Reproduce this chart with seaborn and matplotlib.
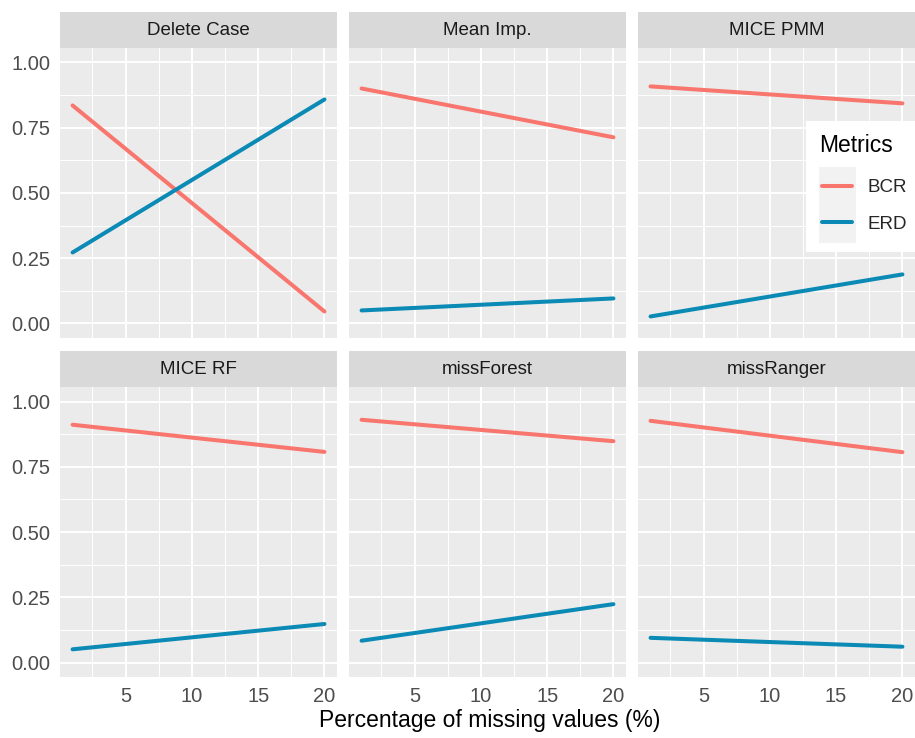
import pandas as pd
import seaborn as sns
import matplotlib.pyplot as plt
from matplotlib.patches import Rectangle
from matplotlib.lines import Line2D
from matplotlib.ticker import MultipleLocator, FormatStrFormatter

# Data (values at 1% and 20% missing)
methods = ["Delete Case", "Mean Imp.", "MICE PMM", "MICE RF", "missForest", "missRanger"]
pct_missing = [1, 20]
bcr_start = [0.835, 0.900, 0.908, 0.911, 0.930, 0.926]
bcr_end = [0.046, 0.713, 0.843, 0.807, 0.848, 0.806]
erd_start = [0.272, 0.050, 0.027, 0.051, 0.084, 0.095]
erd_end = [0.858, 0.096, 0.188, 0.148, 0.224, 0.061]
metrics = ["BCR", "ERD"]
palette = {"BCR": "#F8766D", "ERD": "#0A8AB4"}

rows = []
for i, m in enumerate(methods):
    for metric, start, end in (("BCR", bcr_start, bcr_end), ("ERD", erd_start, erd_end)):
        rows.append({"method": m, "Metrics": metric, "pct": pct_missing[0], "value": start[i]})
        rows.append({"method": m, "Metrics": metric, "pct": pct_missing[1], "value": end[i]})
df = pd.DataFrame(rows)

sns.set_style("darkgrid", rc={"axes.facecolor": "#EBEBEB", "grid.color": "white"})
plt.rcParams["font.family"] = ["Liberation Sans", "DejaVu Sans"]

g = sns.relplot(
    data=df, x="pct", y="value", hue="Metrics", col="method", col_wrap=3,
    col_order=methods, kind="line", palette=palette, linewidth=2.9,
    height=3, aspect=1, legend=False, facet_kws=dict(sharex=True, sharey=True),
)
fig = g.figure
fig.set_size_inches(9.15, 7.38)
fig.subplots_adjust(left=60 / 915, right=1.0, top=1 - 48 / 738, bottom=1 - 677 / 738,
                    wspace=0.043, hspace=0.17)

strip_h = 0.124
for idx, ax in enumerate(g.axes.flat):
    r, c = divmod(idx, 3)
    ax.set_title("")
    ax.set_xlabel("")
    ax.set_ylabel("")
    ax.set_xlim(0.05, 20.95)
    ax.set_ylim(-0.055, 1.055)
    ax.xaxis.set_major_locator(MultipleLocator(5))
    ax.xaxis.set_minor_locator(MultipleLocator(2.5))
    ax.yaxis.set_major_locator(MultipleLocator(0.25))
    ax.yaxis.set_minor_locator(MultipleLocator(0.125))
    ax.yaxis.set_major_formatter(FormatStrFormatter("%.2f"))
    ax.grid(which="major", color="white", linewidth=1.4)
    ax.grid(which="minor", color="white", linewidth=0.7)
    for s in ax.spines.values():
        s.set_visible(False)
    ax.tick_params(which="major", length=4, width=1.1, color="#333333",
                   labelcolor="#4D4D4D", labelsize=14.5, pad=3)
    ax.tick_params(which="minor", length=0)
    if r == 0:
        ax.tick_params(axis="x", length=0, labelbottom=False)
    else:
        ax.tick_params(axis="x", labelbottom=True)
    if c > 0:
        ax.tick_params(axis="y", length=0, labelleft=False)
    ax.add_patch(Rectangle((0, 1), 1, strip_h, transform=ax.transAxes,
                           facecolor="#D9D9D9", edgecolor="none", clip_on=False))
    ax.text(0.5, 1 + strip_h / 2, methods[idx], transform=ax.transAxes,
            ha="center", va="center", fontsize=13.5, color="#1A1A1A")

fig.text(0.535, 1 - 721 / 738, "Percentage of missing values (%)",
         ha="center", va="center", fontsize=16.5, color="black")

# Legend box drawn inside the upper-right panel like the reference
fig.add_artist(Rectangle((806 / 915, 1 - 252 / 738), 115 / 915, 131 / 738,
                         transform=fig.transFigure, facecolor="white",
                         edgecolor="none", zorder=5))
fig.add_artist(Rectangle((819 / 915, 1 - 243 / 738), 37 / 915, 76 / 738,
                         transform=fig.transFigure, facecolor="#F2F2F2",
                         edgecolor="none", zorder=6))
fig.text(819 / 915, 1 - 145 / 738, "Metrics", ha="left", va="center",
         fontsize=16.5, color="black", zorder=7)
handles = [Line2D([], [], color=palette[m], linewidth=2.9) for m in metrics]
leg = fig.legend(handles, metrics, loc="upper left",
                 bbox_to_anchor=(822 / 915, 1 - 179 / 738), frameon=False,
                 fontsize=13.5, handlelength=1.6,
                 labelspacing=1.05, handletextpad=0.85, borderaxespad=0,
                 borderpad=0)
leg.set_zorder(7)

fig.savefig("out.png", dpi=100)
